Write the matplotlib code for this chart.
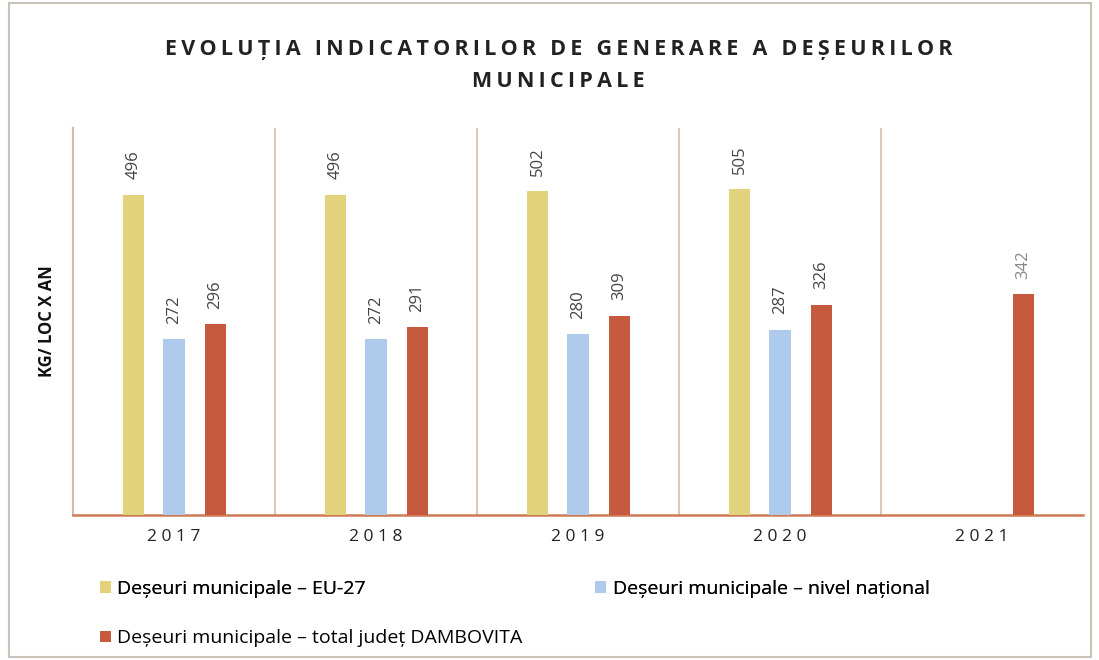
import numpy as np
import matplotlib.pyplot as plt
from matplotlib.patches import Rectangle

plt.rcParams['font.family'] = ['Open Sans', 'DejaVu Sans']

years = ['2017', '2018', '2019', '2020', '2021']
eu27 = [496, 496, 502, 505, None]
national = [272, 272, 280, 287, None]
dambovita = [296, 291, 309, 326, 342]

labels = ['Deșeuri municipale – EU-27',
          'Deșeuri municipale – nivel național',
          'Deșeuri municipale – total județ DAMBOVITA']
colors = ['#E3D27C', '#AECBEB', '#C65A3E']


def spaced(s, sep='\u2009'):
    return sep.join(s)


fig = plt.figure(figsize=(10.99, 6.6), dpi=100, facecolor='white')
ax = fig.add_axes([0.0664, 0.2197, 0.9190, 0.5866])
ax.set_facecolor('white')

x = np.arange(len(years))
w = 0.105
offsets = [-0.2, 0.0, 0.205]
handles = []
for series, off, col, lab in zip([eu27, national, dambovita], offsets, colors, labels):
    xs = [xi + off for xi, v in zip(x, series) if v is not None]
    vs = [v for v in series if v is not None]
    b = ax.bar(xs, vs, width=w, color=col, label=lab, zorder=3)
    handles.append(b)
    for xi, v in zip(xs, vs):
        ax.text(xi, v + 24, str(v), rotation=90, ha='center', va='bottom',
                fontsize=12, color='#444444' if xi < 4 else '#888888')

ax.set_xlim(-0.5, len(years) - 0.5)
ax.set_ylim(0, 600)
ax.set_yticks([])
ax.set_xticks(x)
ax.set_xticklabels([spaced(y, ' ') for y in years], fontsize=12.5, color='#222222')
ax.tick_params(axis='x', length=0, pad=10)

for b in np.arange(0.5, len(years) - 0.5, 1):
    ax.axvline(b, color='#D9BBA8', lw=1.2, zorder=1)

for s in ['top', 'right']:
    ax.spines[s].set_visible(False)
ax.spines['left'].set_color('#D8B9A2')
ax.spines['left'].set_linewidth(1.5)
ax.spines['bottom'].set_color('#D07A55')
ax.spines['bottom'].set_linewidth(1.8)

ax.set_ylabel('KG/ LOC X AN', fontsize=12, fontweight='bold', color='#111111', labelpad=12)

fig.text(0.508, 0.925, spaced('EVOLUȚIA INDICATORILOR DE GENERARE A DEȘEURILOR'),
         ha='center', va='center', fontsize=15.5, fontweight='bold', color='#222222')
fig.text(0.508, 0.877, spaced('MUNICIPALE'),
         ha='center', va='center', fontsize=15.5, fontweight='bold', color='#222222')

leg1 = fig.legend([handles[0], handles[1]], labels[:2], loc='upper left',
                  bbox_to_anchor=(0.075, 0.148), ncol=2, frameon=False,
                  fontsize=14, handlelength=0.55, handleheight=0.55,
                  handletextpad=0.35, columnspacing=11.8)
fig.legend([handles[2]], labels[2:], loc='upper left',
           bbox_to_anchor=(0.075, 0.073), frameon=False,
           fontsize=14, handlelength=0.55, handleheight=0.55, handletextpad=0.35)
fig.add_artist(leg1)

fig.patches.append(Rectangle((0.008, 0.005), 0.985, 0.99, transform=fig.transFigure,
                             fill=False, edgecolor='#C9C2B8', lw=1.5))

fig.savefig('out.png', dpi=100, facecolor=fig.get_facecolor())
